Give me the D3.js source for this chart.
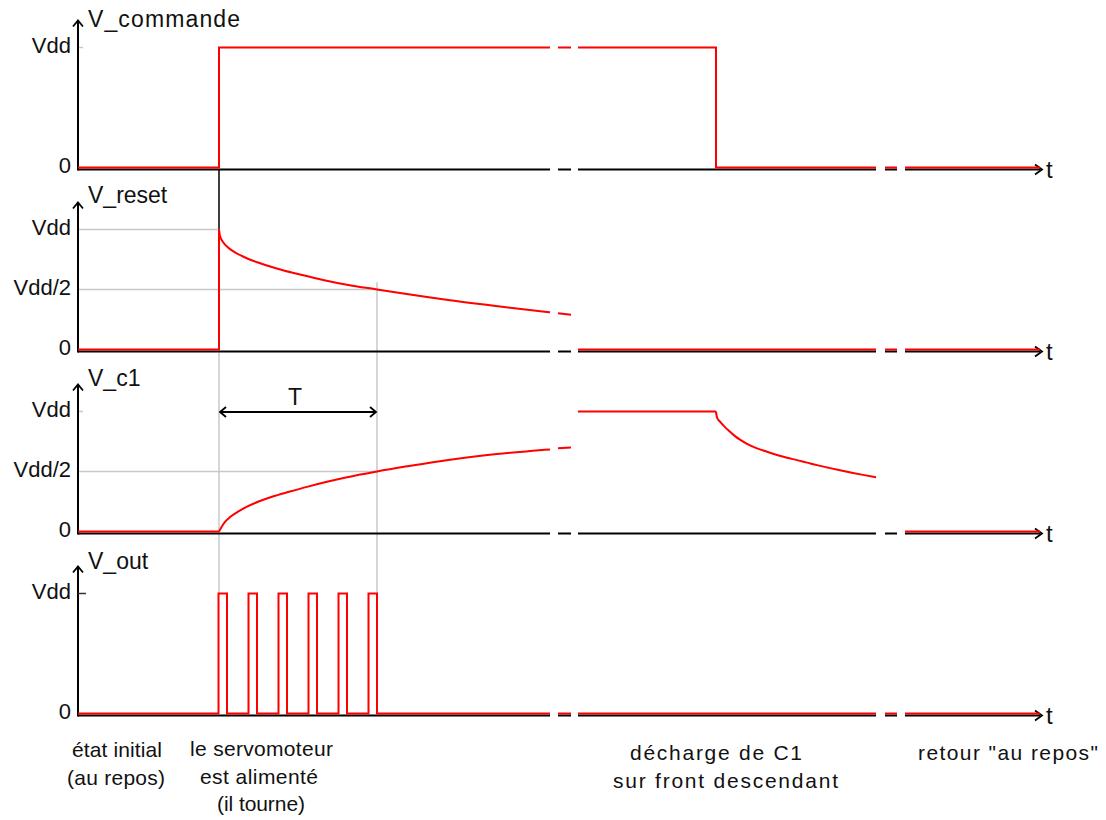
<!DOCTYPE html>
<html><head><meta charset="utf-8">
<script src="https://cdn.jsdelivr.net/npm/d3@7"></script>
<style>
html,body{margin:0;padding:0;background:#fff;}
svg{display:block;font-family:"Liberation Sans",Arial,sans-serif;}
</style></head><body>
<svg id="chart" width="1106" height="820"></svg>
<script>
// ---------- data ----------
const panelNames = ["V_commande", "V_reset", "V_c1", "V_out"];
const panelTicks = [[0, 1], [0, 0.5, 1], [0, 0.5, 1], [0, 1]];
const tickNames = { 0: "0", 0.5: "Vdd/2", 1: "Vdd" };
const axisSegments = [[0, 47.2], [48.0, 49.3], [50.0, 79.8], [80.7, 81.9], [82.7, 96.2]];
const tOn = 14.1;      // front montant de V_commande
const tT = 29.9;       // fin de la période T
const tEnd = 96.2;

const vCommande = [
  [[0, 0], [14.1, 0], [14.1, 1], [47.2, 1]],
  [[48.0, 1], [49.3, 1]],
  [[50.0, 1], [63.8, 1], [63.8, 0], [79.8, 0]],
  [[80.7, 0], [81.9, 0]],
  [[82.7, 0], [96.2, 0]]
];
const vReset = [
  [[0, 0], [14.1, 0], [14.1, 1]],
  [[14.1, 1], [14.2, 0.945], [14.5, 0.895], [15.0, 0.85], [15.7, 0.81], [16.5, 0.775], [17.5, 0.74],
   [18.9, 0.7], [20.5, 0.66], [22.2, 0.625], [24.5, 0.58], [26.9, 0.54], [29.9, 0.5], [32.2, 0.47],
   [37.2, 0.41], [42.2, 0.358], [47.2, 0.31]],
  [[48.0, 0.302], [49.3, 0.29]],
  [[50.0, 0], [79.8, 0]],
  [[80.7, 0], [81.9, 0]],
  [[82.7, 0], [96.2, 0]]
];
const vC1 = [
  [[0, 0], [14.1, 0]],
  [[14.1, 0], [14.37, 0.04], [14.7, 0.08], [15.2, 0.12], [16.0, 0.165], [16.9, 0.207], [18.0, 0.248],
   [19.4, 0.29], [21.2, 0.333], [22.9, 0.372], [24.9, 0.414], [26.9, 0.452], [29.9, 0.5], [32.9, 0.543],
   [35.5, 0.578], [38.5, 0.613], [41.9, 0.645], [45.5, 0.672], [47.2, 0.684]],
  [[48.0, 0.693], [49.3, 0.7]],
  [[50.0, 1], [63.8, 1]],
  [[63.8, 1], [63.9, 0.95], [64.2, 0.915], [64.7, 0.87], [65.2, 0.832], [65.7, 0.795], [66.2, 0.765],
   [66.9, 0.73], [67.9, 0.693], [68.9, 0.665], [69.9, 0.638], [70.9, 0.615], [71.9, 0.595], [72.9, 0.574],
   [73.9, 0.553], [74.9, 0.534], [76.2, 0.51], [77.5, 0.488], [78.5, 0.472], [79.8, 0.452]],
  [[82.7, 0], [96.2, 0]]
];
const pulseStarts = [14.05, 17.05, 20.05, 23.05, 26.05, 29.05];
const pulseEnds   = [14.9, 17.9, 20.9, 23.9, 26.9, 29.9];
const vOutTail = [
  [[48.0, 0], [49.3, 0]],
  [[50.0, 0], [79.8, 0]],
  [[80.7, 0], [81.9, 0]],
  [[82.7, 0], [96.2, 0]]
];
const captionLines = [
  ["état initial", "(au repos)"],
  ["le servomoteur", "est alimenté", "(il tourne)"],
  ["décharge de C1", "sur front descendant"],
  ["retour \"au repos\""]
];

// ---------- layout ----------
const svg = d3.select("#chart");
const RED = "#ff0000", GREY = "#c8c8c8", BLACK = "#000";
const x = d3.scaleLinear().domain([0, tEnd]).range([78, 1040]);
const zeros = [167.5, 349.5, 531.5, 713.5];
const H = 120;
const ys = zeros.map(z => d3.scaleLinear().domain([0, 1]).range([z, z - H]));
const axisOff = 2;

// build V_out from pulse edges
const outFirst = [[0, 0]];
pulseStarts.forEach((s, i) => {
  outFirst.push([s, 0], [s, 1], [pulseEnds[i], 1], [pulseEnds[i], 0]);
});
outFirst.push([47.2, 0]);
const vOut = [outFirst, ...vOutTail];
const signals = [vCommande, vReset, vC1, vOut];

const gGrid = svg.append("g");
const gAxes = svg.append("g");
const gSig = svg.append("g");
const gTxt = svg.append("g");

// ---------- grey guide lines ----------
const gridLines = [
  [x(0), ys[1](1), x(tOn), ys[1](1)],
  [x(0), ys[1](0.5), x(tT), ys[1](0.5)],
  [x(0), ys[2](0.5), x(tT), ys[2](0.5)],
  [x(tOn), ys[1](0) + 3, x(tOn), ys[3](1)],
  [x(tT), ys[1](0.56), x(tT), ys[3](1)],
  [79, ys[0](1), 83, ys[0](1)],
  [79, ys[2](1), 83, ys[2](1)]
];
gGrid.selectAll("line").data(gridLines).join("line")
  .attr("x1", d => d[0]).attr("y1", d => d[1]).attr("x2", d => d[2]).attr("y2", d => d[3])
  .attr("stroke", GREY).attr("stroke-width", 1.5);

// ---------- axes ----------
const titleY = [27, 203, 386, 569];
zeros.forEach((z, i) => {
  const ay = z + axisOff;
  gAxes.append("line").attr("x1", 78).attr("x2", 78).attr("y1", ay + 1).attr("y2", ay - 149)
    .attr("stroke", BLACK).attr("stroke-width", 2);
  gAxes.append("path").attr("d", `M73,${ay - 143} L78,${ay - 149} L83,${ay - 143}`)
    .attr("fill", "none").attr("stroke", BLACK).attr("stroke-width", 1.8);
  gAxes.selectAll(null).data(axisSegments).join("line")
    .attr("x1", d => x(d[0])).attr("x2", d => x(d[1])).attr("y1", ay).attr("y2", ay)
    .attr("stroke", BLACK).attr("stroke-width", 2);
  gAxes.append("path").attr("d", `M${x(tEnd) - 5},${ay - 5} L${x(tEnd) + 2},${ay} L${x(tEnd) - 5},${ay + 5}`)
    .attr("fill", "none").attr("stroke", BLACK).attr("stroke-width", 1.8);
  gTxt.append("text").attr("x", 1046).attr("y", ay + 8).attr("font-size", 24).attr("fill", "#111").text("t");
  const ax = gTxt.append("g").attr("transform", "translate(71,0)")
    .call(d3.axisLeft(ys[i]).tickValues(panelTicks[i]).tickFormat(v => tickNames[v]).tickSize(0).tickPadding(0));
  ax.select(".domain").remove();
  ax.selectAll("text").attr("font-size", 22).attr("font-family", "Liberation Sans, Arial, sans-serif")
    .attr("fill", "#111").attr("dy", "0.22em");
  const tt = gTxt.append("text").attr("x", 88).attr("y", titleY[i]).attr("font-size", 23)
    .attr("fill", "#111").text(panelNames[i]);
  if (i === 0) tt.attr("textLength", 152).attr("lengthAdjust", "spacing");
});
gAxes.append("line").attr("x1", 78).attr("x2", 86).attr("y1", ys[3](1)).attr("y2", ys[3](1))
  .attr("stroke", "#333").attr("stroke-width", 1.5);
gAxes.append("line").attr("x1", x(tOn)).attr("x2", x(tOn)).attr("y1", zeros[0] + axisOff).attr("y2", ys[1](1))
  .attr("stroke", BLACK).attr("stroke-width", 1.5);

// ---------- signals ----------
const hasStep = seg => seg.some((d, k) => k > 0 && d[0] === seg[k - 1][0]);
signals.forEach((segs, i) => {
  gSig.selectAll(null).data(segs).join("path")
    .attr("d", seg => d3.line().x(d => x(d[0])).y(d => ys[i](d[1]))
      .curve(hasStep(seg) || seg.length < 3 ? d3.curveLinear : d3.curveMonotoneX)(seg))
    .attr("fill", "none").attr("stroke", RED).attr("stroke-width", 2)
    .attr("stroke-linejoin", "miter");
});

// ---------- T double arrow ----------
const ty = ys[2](1) + 0.5;
gAxes.append("line").attr("x1", x(tOn) + 1).attr("x2", x(tT) - 1).attr("y1", ty).attr("y2", ty)
  .attr("stroke", BLACK).attr("stroke-width", 1.8);
gAxes.append("path").attr("d", `M${x(tOn) + 7},${ty - 5} L${x(tOn) + 1},${ty} L${x(tOn) + 7},${ty + 5}`)
  .attr("fill", "none").attr("stroke", BLACK).attr("stroke-width", 1.8);
gAxes.append("path").attr("d", `M${x(tT) - 7},${ty - 5} L${x(tT) - 1},${ty} L${x(tT) - 7},${ty + 5}`)
  .attr("fill", "none").attr("stroke", BLACK).attr("stroke-width", 1.8);
gTxt.append("text").attr("x", (x(tOn) + x(tT)) / 2 - 3).attr("y", 405).attr("text-anchor", "middle")
  .attr("font-size", 23).attr("fill", "#111").text("T");

// ---------- captions ----------
const captionPos = [
  [[117, 757, 90], [116, 785, 98]],
  [[261.5, 756, 143], [259, 784, 118], [261, 811, 88]],
  [[716, 760, 172], [725.5, 788, 225]],
  [[1008, 760, 180]]
];
captionLines.forEach((lines, i) => {
  lines.forEach((s, j) => {
    const p = captionPos[i][j];
    gTxt.append("text").attr("x", p[0]).attr("y", p[1])
      .attr("text-anchor", "middle").attr("font-size", 21).attr("fill", "#111")
      .attr("textLength", p[2]).attr("lengthAdjust", "spacing").text(s);
  });
});
</script>
</body></html>
